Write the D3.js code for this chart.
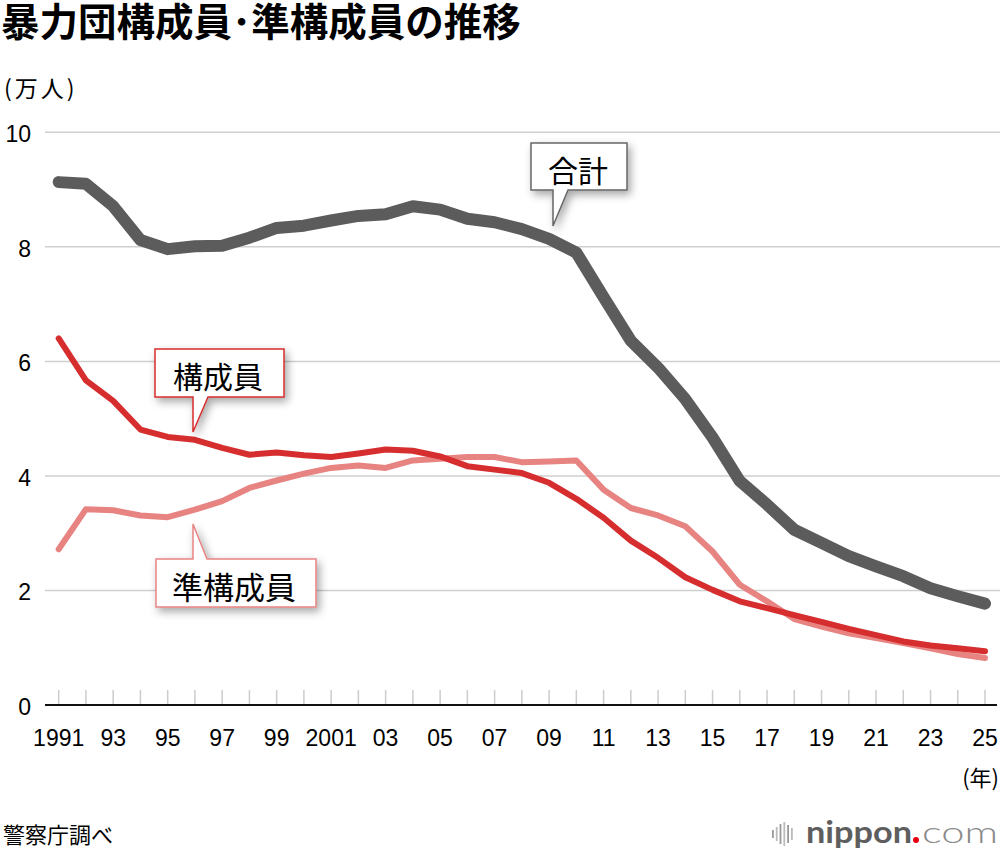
<!DOCTYPE html>
<html>
<head>
<meta charset="utf-8">
<title>暴力団構成員・準構成員の推移</title>
<script src="https://d3js.org/d3.v7.min.js"></script>
<style>
  body { margin: 0; background: #fff; }
  svg { display: block; }
  .jp { font-family: "Noto Sans CJK JP", "Noto Sans", sans-serif; }
  .num { font-family: "Liberation Sans", Arial, sans-serif; }
</style>
</head>
<body>
<svg id="chart"></svg>
<script>
    // data (10k persons)
    var years = d3.range(1991, 2026);
    var total = [9.13, 9.10, 8.71, 8.12, 7.96, 8.01, 8.02, 8.16, 8.33, 8.37,
                 8.46, 8.54, 8.57, 8.71, 8.65, 8.49, 8.43, 8.31, 8.14, 7.90,
                 7.12, 6.36, 5.89, 5.34, 4.67, 3.91, 3.50, 3.06, 2.83, 2.60,
                 2.42, 2.25, 2.04, 1.90, 1.77];
    var members = [6.40, 5.67, 5.31, 4.81, 4.68, 4.63, 4.49, 4.37, 4.41, 4.36,
                   4.33, 4.39, 4.46, 4.44, 4.34, 4.17, 4.11, 4.05, 3.88, 3.60,
                   3.27, 2.87, 2.57, 2.23, 2.01, 1.81, 1.69, 1.57, 1.45, 1.33,
                   1.22, 1.11, 1.04, 0.99, 0.94];
    var quasi = [2.72, 3.42, 3.40, 3.31, 3.28, 3.41, 3.56, 3.79, 3.92, 4.04,
                 4.14, 4.18, 4.14, 4.27, 4.30, 4.33, 4.33, 4.24, 4.25, 4.27,
                 3.76, 3.44, 3.31, 3.12, 2.68, 2.10, 1.81, 1.50, 1.37, 1.25,
                 1.17, 1.08, 0.99, 0.89, 0.82];
    var yTicks = [0, 2, 4, 6, 8, 10];
    var xLabelYears = d3.range(1991, 2026, 2);

    function yearLabel(y) {
        if (y === 1991 || y === 2001) return String(y);
        return String(y % 100).padStart(2, '0');
    }

    var width = 1000, height = 856;
    var svg = d3.select('#chart').attr('width', width).attr('height', height);

    var x = d3.scaleLinear().domain([1991, 2025]).range([58.7, 985]);
    var y = d3.scaleLinear().domain([0, 10]).range([705, 132.3]);

    var defs = svg.append('defs');
    defs.append('filter')
        .attr('id', 'shadow')
        .attr('x', '-20%').attr('y', '-30%')
        .attr('width', '150%').attr('height', '180%')
        .append('feDropShadow')
        .attr('dx', 3).attr('dy', 4)
        .attr('stdDeviation', 4)
        .attr('flood-color', '#000')
        .attr('flood-opacity', 0.35);

    // title
    svg.append('text')
        .attr('class', 'jp')
        .attr('x', 1).attr('y', 36)
        .attr('font-size', 38.5)
        .attr('font-weight', 'bold')
        .text('暴力団構成員･準構成員の推移');

    svg.append('text')
        .attr('class', 'jp')
        .attr('x', 4).attr('y', 97)
        .attr('font-size', 23)
        .attr('letter-spacing', 3)
        .text('(万人)');

    // gridlines
    svg.selectAll('line.grid')
        .data(yTicks.filter(function (d) { return d > 0; }))
        .enter()
        .append('line')
        .attr('class', 'grid')
        .attr('x1', 45).attr('x2', 1000)
        .attr('y1', function (d) { return y(d); })
        .attr('y2', function (d) { return y(d); })
        .attr('stroke', '#cfcfcf')
        .attr('stroke-width', 1.5);

    // y labels
    svg.selectAll('text.ylab')
        .data(yTicks)
        .enter()
        .append('text')
        .attr('class', 'ylab num')
        .attr('x', 31)
        .attr('y', function (d) { return y(d) + 10; })
        .attr('text-anchor', 'end')
        .attr('font-size', 23)
        .text(function (d) { return d; });

    // year ticks
    svg.selectAll('line.tick')
        .data(years)
        .enter()
        .append('line')
        .attr('class', 'tick')
        .attr('x1', function (d) { return x(d); })
        .attr('x2', function (d) { return x(d); })
        .attr('y1', 690).attr('y2', 705)
        .attr('stroke', '#cccccc')
        .attr('stroke-width', 1.5);

    svg.append('line')
        .attr('x1', 45).attr('x2', 997)
        .attr('y1', y(0)).attr('y2', y(0))
        .attr('stroke', '#111')
        .attr('stroke-width', 2);

    svg.selectAll('text.xlab')
        .data(xLabelYears)
        .enter()
        .append('text')
        .attr('class', 'xlab num')
        .attr('x', function (d) { return x(d); })
        .attr('y', 746)
        .attr('text-anchor', 'middle')
        .attr('font-size', 23)
        .text(yearLabel);

    svg.append('text')
        .attr('class', 'jp')
        .attr('x', 999).attr('y', 786)
        .attr('text-anchor', 'end')
        .attr('font-size', 22)
        .text('(年)');

    // lines
    var series = [
        { name: 'quasi', values: quasi, color: '#e78482', w: 6 },
        { name: 'members', values: members, color: '#d62e2e', w: 6 },
        { name: 'total', values: total, color: '#5c5c5c', w: 12 }
    ];

    var line = d3.line()
        .x(function (d, i) { return x(years[i]); })
        .y(function (d) { return y(d); });

    svg.selectAll('path.series')
        .data(series)
        .enter()
        .append('path')
        .attr('class', 'series')
        .attr('d', function (s) { return line(s.values); })
        .attr('fill', 'none')
        .attr('stroke', function (s) { return s.color; })
        .attr('stroke-width', function (s) { return s.w; })
        .attr('stroke-linejoin', 'round')
        .attr('stroke-linecap', 'round');

    // callouts
    var callouts = [
        { text: '合計', stroke: '#666666', tx: 578, ty: 182, fs: 30,
          d: 'M531,143H627V190H568L553,226V190H531Z' },
        { text: '構成員', stroke: '#d62e2e', tx: 218, ty: 388, fs: 30,
          d: 'M155,349H284V397H208L193,432V397H155Z' },
        { text: '準構成員', stroke: '#e78482', tx: 234, ty: 599, fs: 31,
          d: 'M156,559H193V524L207,559H316V607H156Z' }
    ];

    var cg = svg.selectAll('g.callout')
        .data(callouts)
        .enter()
        .append('g')
        .attr('class', 'callout');

    cg.append('path')
        .attr('d', function (c) { return c.d; })
        .attr('fill', '#fff')
        .attr('stroke', function (c) { return c.stroke; })
        .attr('stroke-width', 1.5)
        .attr('filter', 'url(#shadow)');

    cg.append('text')
        .attr('class', 'jp')
        .attr('x', function (c) { return c.tx; })
        .attr('y', function (c) { return c.ty; })
        .attr('text-anchor', 'middle')
        .attr('font-size', function (c) { return c.fs; })
        .text(function (c) { return c.text; });

    // source
    svg.append('text')
        .attr('class', 'jp')
        .attr('x', 3).attr('y', 843)
        .attr('font-size', 22)
        .text('警察庁調べ');

    // logo
    var logo = svg.append('g');
    var barH = [8, 14, 20, 24, 18, 12];
    logo.selectAll('rect')
        .data(barH)
        .enter()
        .append('rect')
        .attr('x', function (d, i) { return 772 + i * 3.8; })
        .attr('y', function (d) { return 834 - d / 2; })
        .attr('width', 1.8)
        .attr('height', function (d) { return d; })
        .attr('fill', function (d, i) { return i % 2 ? '#bbbbbb' : '#999999'; });

    logo.append('text')
        .attr('x', 806).attr('y', 843)
        .attr('font-family', 'Lato, "Open Sans", sans-serif')
        .attr('font-weight', 'bold')
        .attr('font-size', 30)
        .attr('fill', '#5e5e5e')
        .attr('textLength', 106)
        .attr('lengthAdjust', 'spacingAndGlyphs')
        .text('nippon');

    logo.append('circle')
        .attr('cx', 916).attr('cy', 840)
        .attr('r', 3)
        .attr('fill', '#e60012');

    logo.append('text')
        .attr('x', 922).attr('y', 843)
        .attr('font-family', 'Lato, "Open Sans", sans-serif')
        .attr('font-weight', 300)
        .attr('font-size', 30)
        .attr('fill', '#8a8a8a')
        .attr('textLength', 76)
        .attr('lengthAdjust', 'spacingAndGlyphs')
        .text('com');
</script>
</body>
</html>
